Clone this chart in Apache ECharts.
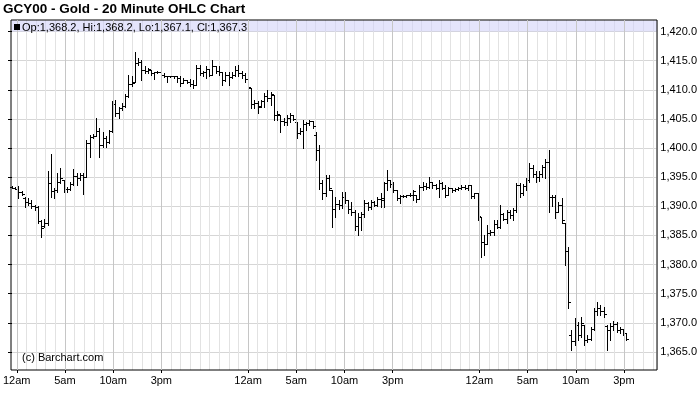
<!DOCTYPE html>
<html>
<head>
<meta charset="utf-8">
<script src="https://cdn.jsdelivr.net/npm/echarts@6/dist/echarts.min.js"></script>
<style>html,body{margin:0;padding:0;background:#fff}#c{width:700px;height:411px}</style>
</head>
<body>
<div id="c"></div>
<script>
// 20-minute bars starting at 12am of day 1
const barMinutes = 20;
const openP = [
1393.4,1393.2,1393.0,1392.4,1391.4,1390.8,1390.6,1390.0,1389.8,1387.5,
1386.6,1387.2,1394.0,1392.6,1392.8,1394.2,1394.5,1392.9,1393.0,1393.9,
1395.2,1394.8,1395.3,1395.1,1400.9,1401.9,1402.1,1403.0,1400.6,1401.8,
1401.0,1403.0,1407.5,1406.0,1406.8,1407.2,1409.0,1411.0,1411.4,1414.6,
1414.8,1413.4,1413.2,1413.4,1412.9,1413.0,1413.1,1412.6,1412.4,1412.3,
1412.3,1412.3,1412.0,1411.2,1411.6,1411.4,1411.0,1410.8,1413.8,1412.8,
1413.0,1413.5,1412.6,1414.0,1413.2,1413.0,1411.6,1412.5,1412.2,1412.6,
1413.4,1412.8,1412.5,1411.8,1410.3,1407.5,1407.8,1407.2,1408.0,1409.0,
1408.6,1409.1,1405.6,1405.7,1404.6,1404.4,1405.2,1405.7,1404.5,1402.6,
1403.0,1404.2,1404.3,1404.6,1402.3,1399.6,1394.0,1392.2,1394.8,1392.8,
1389.5,1390.4,1390.2,1391.6,1391.0,1389.5,1389.0,1386.6,1388.2,1388.6,
1390.5,1389.8,1390.8,1390.3,1391.2,1391.0,1394.0,1394.5,1393.9,1392.8,
1391.5,1391.8,1391.8,1391.9,1392.0,1392.0,1391.2,1393.4,1393.5,1393.4,
1394.2,1393.6,1393.2,1394.0,1393.2,1392.0,1393.1,1392.8,1393.0,1393.1,
1393.4,1393.2,1393.6,1391.8,1392.2,1388.2,1383.9,1383.5,1385.5,1385.6,
1387.0,1386.4,1388.6,1387.9,1389.0,1388.5,1389.4,1393.6,1392.3,1393.5,
1394.6,1396.5,1395.5,1395.0,1395.6,1396.8,1397.6,1391.6,1391.6,1389.0,
1390.2,1387.1,1382.3,1368.0,1366.9,1369.6,1368.0,1369.6,1367.0,1367.2,
1369.0,1372.0,1372.6,1372.0,1369.4,1368.8,1369.4,1369.8,1368.8,1369.0,
1368.2];
const highP = [
1393.5,1393.4,1393.5,1392.7,1391.6,1391.4,1391.1,1390.2,1390.1,1387.6,
1387.8,1396.1,1399.0,1393.1,1395.7,1396.5,1394.5,1393.4,1394.2,1396.4,
1395.7,1395.7,1395.8,1401.4,1402.3,1402.4,1405.1,1403.4,1402.8,1402.0,
1403.1,1408.1,1408.3,1407.1,1407.7,1409.3,1412.6,1412.3,1416.5,1415.4,
1415.1,1414.0,1413.8,1413.4,1413.1,1413.3,1413.1,1412.9,1412.4,1412.4,
1412.4,1412.4,1412.3,1412.0,1411.7,1411.8,1411.7,1414.3,1414.3,1413.2,
1414.0,1413.5,1415.1,1414.0,1414.0,1413.1,1413.1,1413.1,1413.1,1414.0,
1414.3,1413.3,1412.9,1412.9,1410.3,1408.3,1408.0,1408.3,1409.4,1410.0,
1409.7,1409.1,1406.3,1405.7,1405.1,1405.7,1406.0,1405.7,1404.5,1403.4,
1404.8,1404.5,1404.8,1404.7,1402.8,1400.5,1394.5,1395.4,1395.4,1392.8,
1391.6,1391.1,1392.5,1392.5,1391.1,1390.8,1389.4,1388.8,1389.1,1391.1,
1390.8,1391.1,1390.9,1391.6,1392.2,1394.2,1396.2,1394.5,1394.2,1392.8,
1392.0,1392.0,1392.0,1392.2,1392.8,1392.0,1393.7,1394.2,1394.0,1395.1,
1394.2,1393.8,1394.5,1394.2,1393.7,1393.4,1393.2,1393.1,1393.3,1393.6,
1393.7,1393.7,1393.6,1392.3,1392.3,1388.2,1385.1,1386.8,1386.0,1387.6,
1387.6,1390.2,1388.8,1389.4,1389.4,1389.7,1394.0,1394.0,1393.8,1394.8,
1397.4,1397.1,1396.0,1396.0,1397.1,1398.2,1399.7,1392.0,1392.0,1390.8,
1391.4,1387.1,1383.0,1368.8,1370.8,1370.2,1371.0,1369.6,1367.9,1369.3,
1372.5,1373.6,1373.0,1372.7,1369.6,1369.9,1370.4,1370.2,1369.3,1369.0,
1368.2];
const lowP = [
1393.1,1392.9,1391.4,1391.9,1389.8,1390.2,1389.7,1389.4,1387.1,1384.7,
1386.5,1386.8,1391.6,1391.5,1392.5,1394.0,1392.5,1392.5,1392.8,1393.7,
1393.7,1394.6,1392.1,1395.1,1398.4,1401.7,1402.0,1398.4,1400.2,1400.2,
1400.8,1402.8,1405.5,1405.1,1406.5,1407.1,1408.8,1410.6,1411.4,1414.3,
1411.7,1412.9,1412.9,1412.6,1411.8,1412.9,1412.3,1412.2,1411.4,1412.2,
1412.1,1411.4,1410.6,1411.1,1411.2,1410.6,1410.3,1410.8,1412.6,1412.3,
1412.0,1412.3,1412.5,1412.9,1412.5,1410.8,1411.5,1410.8,1412.0,1412.3,
1412.3,1412.0,1411.4,1410.3,1406.8,1406.8,1406.0,1407.1,1407.1,1408.0,
1407.4,1404.8,1404.8,1402.8,1404.0,1404.0,1404.5,1404.8,1401.7,1402.4,
1400.0,1403.1,1404.0,1403.5,1398.0,1393.0,1391.3,1391.8,1392.8,1386.5,
1388.2,1389.6,1389.7,1390.5,1388.8,1388.5,1385.9,1385.1,1386.0,1388.2,
1389.4,1389.6,1390.0,1390.1,1389.9,1389.9,1392.8,1393.4,1392.5,1391.1,
1390.5,1391.6,1391.6,1391.8,1391.1,1390.8,1391.2,1392.8,1393.0,1393.1,
1393.2,1393.0,1391.6,1392.9,1391.6,1392.0,1392.5,1392.6,1392.8,1392.9,
1392.9,1392.8,1391.4,1391.4,1387.7,1381.3,1381.6,1383.5,1385.1,1385.1,
1386.2,1386.2,1387.6,1387.1,1388.0,1387.7,1389.1,1391.6,1392.0,1392.8,
1394.2,1395.1,1394.2,1394.4,1395.1,1394.8,1389.1,1390.0,1388.0,1389.0,
1387.1,1379.9,1372.5,1365.3,1366.2,1367.0,1367.6,1366.2,1366.7,1367.0,
1368.8,1371.3,1371.3,1371.0,1365.3,1367.0,1368.8,1368.5,1368.2,1367.9,
1367.1];
const closeP = [
1393.2,1393.0,1392.4,1392.1,1390.8,1390.6,1390.0,1389.8,1387.5,1386.2,
1387.2,1394.0,1392.6,1392.8,1394.2,1394.8,1392.9,1393.0,1393.9,1395.2,
1394.8,1395.3,1395.0,1400.9,1401.9,1402.1,1403.0,1400.6,1401.8,1401.0,
1403.0,1407.5,1406.0,1406.8,1407.2,1409.0,1411.0,1411.2,1414.6,1414.8,
1413.4,1413.2,1413.5,1412.9,1413.0,1413.1,1412.6,1412.4,1412.3,1412.3,
1412.3,1412.0,1411.2,1411.6,1411.4,1411.0,1410.8,1413.8,1412.8,1413.0,
1413.5,1412.6,1414.0,1413.2,1413.0,1411.6,1412.5,1412.2,1412.6,1413.4,
1412.8,1412.5,1411.8,1410.5,1407.5,1407.8,1407.0,1408.0,1409.0,1408.6,
1409.3,1405.6,1405.9,1404.6,1404.4,1405.2,1405.7,1405.0,1402.6,1403.0,
1404.2,1404.3,1404.6,1403.8,1399.6,1394.0,1392.2,1394.8,1393.2,1389.5,
1390.4,1390.2,1391.6,1391.0,1389.5,1389.0,1386.6,1388.2,1388.6,1390.5,
1389.8,1390.8,1390.3,1391.2,1391.5,1394.0,1394.5,1393.9,1392.8,1391.5,
1391.8,1391.8,1391.9,1392.0,1392.6,1391.2,1393.4,1393.5,1393.4,1394.2,
1393.6,1393.2,1394.0,1393.2,1392.0,1393.1,1392.8,1393.0,1393.1,1393.4,
1393.2,1393.6,1391.8,1392.2,1388.3,1383.9,1383.5,1385.5,1385.6,1387.0,
1386.4,1388.6,1387.9,1389.0,1388.5,1389.4,1393.6,1392.3,1393.5,1394.6,
1396.5,1395.5,1395.0,1395.6,1396.8,1397.6,1391.6,1391.6,1389.0,1390.2,
1387.6,1382.3,1373.6,1366.9,1369.6,1368.0,1370.0,1367.0,1367.2,1369.0,
1372.0,1372.6,1372.0,1371.5,1368.8,1369.4,1369.8,1368.8,1369.0,1368.2,
1367.3];
// hours (from 12am day 1) where time labels appear
const labelHours = [0,5,10,15,24,29,34,39,48,53,58,63];
const hourNames = {0:'12am',5:'5am',10:'10am',15:'3pm'};
const priceTicks = {min:1365, max:1420, step:5};
const lastPrice = 1367.3;
const titleText = 'GCY00 - Gold - 20 Minute OHLC Chart';
const legendText = 'Op:1,368.2, Hi:1,368.2, Lo:1,367.1, Cl:1,367.3';

const ohlc = openP.map((o, i) => [i * barMinutes / 60, o, highP[i], lowP[i], closeP[i]]);
const fmtPrice = v => v.toLocaleString('en-US', {minimumFractionDigits:1, maximumFractionDigits:1});
const FONT = 'Liberation Sans, Arial, sans-serif';
const X_MAX = 66.43;

function renderItem(params, api) {
  const t = api.value(0);
  const o = api.coord([t, api.value(1)]);
  const h = api.coord([t, api.value(2)]);
  const l = api.coord([t, api.value(3)]);
  const c = api.coord([t, api.value(4)]);
  const col = Math.round(o[0]);
  const yh = Math.round(h[1]), yl = Math.round(l[1]);
  const st = {fill:'#000'};
  return {type:'group', children:[
    {type:'rect', shape:{x:col, y:yh, width:1, height:Math.max(1, yl - yh + 1)}, style:st},
    {type:'rect', shape:{x:col-2, y:Math.round(o[1]), width:2, height:1}, style:st},
    {type:'rect', shape:{x:col+1, y:Math.round(c[1]), width:2, height:1}, style:st}
  ]};
}

const chart = echarts.init(document.getElementById('c'), null, {renderer:'canvas'});
chart.setOption({
  animation:false,
  backgroundColor:'#fff',
  textStyle:{fontFamily:FONT},
  title:{text:titleText, left:3, top:2, padding:0,
    textStyle:{fontSize:13.5, fontWeight:'bold', color:'#000', fontFamily:FONT}},
  grid:[
    {left:11, right:43, top:20, bottom:41, show:true, borderColor:'#000', borderWidth:1, backgroundColor:'transparent', z:5},
    {left:12, right:43, top:20, bottom:41},
    {left:12, right:43, top:31.5, bottom:59}
  ],
  xAxis:[
    {gridIndex:0, type:'value', min:0, max:1, show:false},
    {gridIndex:1, type:'value', position:'top', min:0, max:X_MAX, interval:1,
      axisLine:{show:false}, axisTick:{show:false}, axisLabel:{show:false},
      splitLine:{show:true, lineStyle:{color:'#e2e2e2', width:1}}},
    {gridIndex:1, type:'value', position:'bottom', min:0, max:X_MAX,
      axisLine:{show:false},
      axisTick:{show:true, customValues:labelHours, length:3, lineStyle:{color:'#000'}},
      axisLabel:{show:true, customValues:labelHours, margin:5, fontSize:11, color:'#000', fontFamily:FONT,
        formatter:v => hourNames[Math.round(v) % 24] || ''},
      splitLine:{show:false}},
    {gridIndex:2, type:'value', min:0, max:X_MAX, show:false}
  ],
  yAxis:[
    {gridIndex:0, type:'value', min:0, max:1, show:false},
    {gridIndex:1, type:'value', min:0, max:1, show:false},
    {gridIndex:2, type:'value', position:'right', min:priceTicks.min, max:priceTicks.max, interval:priceTicks.step,
      axisLine:{show:false},
      axisTick:{show:true, inside:true, length:4, lineStyle:{color:'#000'}},
      axisLabel:{margin:4, fontSize:11, color:'#000', fontFamily:FONT, formatter:fmtPrice},
      splitLine:{show:true, lineStyle:{color:'#d6d6d6', width:1}}}
  ],
  graphic:[
    {type:'rect', shape:{x:12, y:20.5, width:645, height:11}, style:{fill:'rgba(205,205,248,0.55)'}, z:1, silent:true},
    {type:'rect', shape:{x:14, y:24, width:6, height:6}, style:{fill:'#000'}, z:10},
    {type:'text', x:22, y:27.5, style:{text:legendText, font:'11px ' + FONT, fill:'#000', verticalAlign:'middle'}, z:10},
    {type:'text', x:22, y:357.5, style:{text:'(c) Barchart.com', font:'11px ' + FONT, fill:'#000', verticalAlign:'middle'}, z:10}
  ],
  series:[
    {type:'line', xAxisIndex:1, yAxisIndex:1, data:[], silent:true,
      markLine:{silent:true, symbol:'none', animation:false, label:{show:false},
        lineStyle:{color:'#c6c6c6', width:1, type:'solid'},
        data:labelHours.map(h => ({xAxis:h}))}},
    {type:'custom', xAxisIndex:3, yAxisIndex:2, renderItem:renderItem, data:ohlc, clip:false, z:3,
      markLine:{silent:true, symbol:'none', animation:false,
        lineStyle:{opacity:0},
        label:{show:true, position:'end', distance:4, formatter:fmtPrice(lastPrice),
          color:'#fff', backgroundColor:'#000', padding:[1,1,0,1], fontSize:11, fontFamily:FONT},
        data:[{yAxis:lastPrice}]}}
  ]
});
</script>
</body>
</html>
